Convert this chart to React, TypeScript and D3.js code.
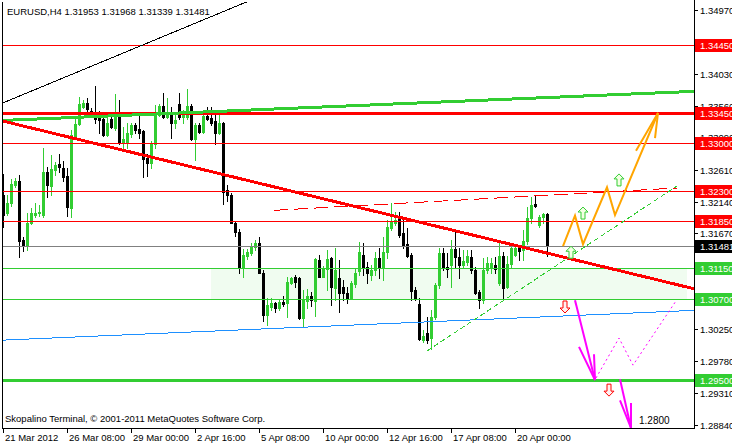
import React from "react";
import * as d3 from "d3";

// EURUSD H4 chart, MetaTrader style, with analyst drawings on top

const symbol = "EURUSD,H4";
const lastQuote = [1.31953, 1.31968, 1.31339, 1.31481];

// open, high, low, close
const bars: [number, number, number, number][] = [
  [1.3224, 1.3255, 1.3176, 1.3194], [1.3197, 1.3224, 1.3194, 1.3212], [1.3212, 1.3247, 1.3207, 1.324],
  [1.3238, 1.3249, 1.3235, 1.3244], [1.3244, 1.3253, 1.3132, 1.3156], [1.3157, 1.3161, 1.3141, 1.3148],
  [1.3148, 1.3197, 1.3142, 1.3182], [1.3182, 1.3204, 1.3181, 1.3197], [1.3194, 1.3212, 1.3191, 1.3197],
  [1.3197, 1.3209, 1.3192, 1.3198], [1.3194, 1.3293, 1.3191, 1.3258], [1.3258, 1.3265, 1.3221, 1.3238],
  [1.3237, 1.3283, 1.3224, 1.3262], [1.3261, 1.3272, 1.3253, 1.3268], [1.327, 1.3284, 1.3258, 1.3265],
  [1.3264, 1.3274, 1.3244, 1.325], [1.3252, 1.3264, 1.3192, 1.3206], [1.3204, 1.332, 1.3191, 1.3312],
  [1.3311, 1.3339, 1.3309, 1.3329], [1.3329, 1.3369, 1.3327, 1.3358], [1.3354, 1.3364, 1.3352, 1.336],
  [1.336, 1.3367, 1.3345, 1.3351], [1.3348, 1.3352, 1.3339, 1.3344], [1.3346, 1.3385, 1.333, 1.3336],
  [1.3345, 1.3348, 1.3315, 1.3335], [1.3336, 1.3339, 1.3311, 1.3312], [1.3312, 1.3338, 1.3311, 1.333],
  [1.3336, 1.3339, 1.3323, 1.3324], [1.3323, 1.3373, 1.332, 1.3345], [1.3342, 1.3364, 1.3299, 1.3301],
  [1.3301, 1.3324, 1.329, 1.3306], [1.3302, 1.333, 1.3293, 1.3315], [1.3314, 1.333, 1.3309, 1.3327],
  [1.3327, 1.333, 1.3315, 1.332], [1.3321, 1.3341, 1.3308, 1.3315], [1.3318, 1.332, 1.325, 1.3277],
  [1.3278, 1.3284, 1.3252, 1.3271], [1.3271, 1.3304, 1.3264, 1.3301], [1.3299, 1.3357, 1.3293, 1.3344],
  [1.3342, 1.3358, 1.3341, 1.3355], [1.3355, 1.3375, 1.3338, 1.3339], [1.3339, 1.3367, 1.3338, 1.3345],
  [1.3344, 1.3354, 1.3308, 1.333], [1.333, 1.3344, 1.3323, 1.3335], [1.3358, 1.3375, 1.3336, 1.3339],
  [1.3339, 1.3349, 1.333, 1.3342], [1.3339, 1.3381, 1.3336, 1.3355], [1.3355, 1.3358, 1.3305, 1.3306],
  [1.3306, 1.333, 1.3275, 1.3327], [1.3327, 1.333, 1.3315, 1.3317], [1.3317, 1.3342, 1.3315, 1.3341],
  [1.3341, 1.3354, 1.3335, 1.3336], [1.3338, 1.3354, 1.3327, 1.333], [1.3333, 1.3345, 1.3299, 1.3315],
  [1.3315, 1.3345, 1.3314, 1.333], [1.333, 1.3332, 1.321, 1.3228], [1.3231, 1.3238, 1.3215, 1.3224],
  [1.3224, 1.3227, 1.3182, 1.3182], [1.3182, 1.3184, 1.3163, 1.3169], [1.3169, 1.3173, 1.3108, 1.3115],
  [1.3117, 1.3144, 1.3103, 1.3135], [1.3133, 1.3144, 1.3129, 1.3139], [1.3138, 1.3153, 1.3135, 1.3148],
  [1.3147, 1.3157, 1.3142, 1.3153], [1.3153, 1.3161, 1.3108, 1.3109], [1.3109, 1.3112, 1.3037, 1.3046],
  [1.3046, 1.3072, 1.3032, 1.3061], [1.3058, 1.3071, 1.3053, 1.3064], [1.3064, 1.3065, 1.305, 1.3056],
  [1.3056, 1.3069, 1.3053, 1.3065], [1.3065, 1.3075, 1.3059, 1.3062], [1.3064, 1.3102, 1.3043, 1.3095],
  [1.3093, 1.3103, 1.3092, 1.3101], [1.3102, 1.3105, 1.3087, 1.3095], [1.3101, 1.3103, 1.304, 1.3042],
  [1.3042, 1.3083, 1.303, 1.3068], [1.3067, 1.3084, 1.3056, 1.3074], [1.3074, 1.308, 1.3059, 1.3068],
  [1.3067, 1.313, 1.3045, 1.3129], [1.3127, 1.3135, 1.3102, 1.3102], [1.3102, 1.3118, 1.3102, 1.3115],
  [1.3114, 1.3142, 1.3083, 1.3129], [1.313, 1.3132, 1.3061, 1.3087], [1.3086, 1.3145, 1.3068, 1.3112],
  [1.3101, 1.3127, 1.305, 1.3078], [1.3087, 1.3098, 1.3068, 1.3078], [1.3078, 1.3087, 1.3064, 1.3072],
  [1.3072, 1.3096, 1.3071, 1.3093], [1.3092, 1.3114, 1.3087, 1.3108], [1.3111, 1.3154, 1.3106, 1.3139],
  [1.3135, 1.3153, 1.3105, 1.3115], [1.3117, 1.3124, 1.3093, 1.3108], [1.3105, 1.312, 1.3098, 1.3112],
  [1.3112, 1.3139, 1.3106, 1.313], [1.313, 1.3145, 1.3101, 1.3115], [1.3115, 1.3161, 1.3098, 1.3139],
  [1.3139, 1.3186, 1.313, 1.3176], [1.3175, 1.3212, 1.3172, 1.3184], [1.3182, 1.3198, 1.3179, 1.3186],
  [1.3191, 1.3198, 1.3161, 1.3164], [1.3167, 1.3186, 1.3145, 1.315], [1.3151, 1.3175, 1.3132, 1.3133],
  [1.3135, 1.3138, 1.3069, 1.3081], [1.3083, 1.3087, 1.3068, 1.3071], [1.3062, 1.3071, 1.3009, 1.3011],
  [1.3009, 1.3024, 1.3006, 1.3015], [1.302, 1.3043, 1.3005, 1.3009], [1.3012, 1.3053, 1.2996, 1.3043],
  [1.3043, 1.3093, 1.304, 1.309], [1.309, 1.3145, 1.3086, 1.3138], [1.3138, 1.3145, 1.3112, 1.3117],
  [1.3117, 1.3138, 1.3102, 1.3114], [1.312, 1.3157, 1.3087, 1.3144], [1.3144, 1.3169, 1.3117, 1.3132],
  [1.3132, 1.3145, 1.3101, 1.312], [1.312, 1.3142, 1.3117, 1.3126], [1.3124, 1.3142, 1.312, 1.3133],
  [1.3132, 1.3142, 1.3108, 1.3112], [1.3112, 1.3117, 1.3077, 1.3078], [1.308, 1.3083, 1.3056, 1.3068],
  [1.3068, 1.313, 1.3064, 1.3112], [1.3112, 1.3132, 1.3108, 1.3123], [1.3115, 1.313, 1.3109, 1.3123],
  [1.312, 1.3132, 1.3108, 1.3114], [1.3093, 1.3153, 1.309, 1.3133], [1.3133, 1.3139, 1.3069, 1.3086],
  [1.3087, 1.3133, 1.3086, 1.3121], [1.3121, 1.315, 1.3117, 1.3145], [1.3135, 1.3148, 1.3133, 1.3145],
  [1.3147, 1.315, 1.3127, 1.3141], [1.3142, 1.3172, 1.3127, 1.3156], [1.3156, 1.3206, 1.3151, 1.3189],
  [1.3189, 1.3221, 1.3182, 1.3209], [1.321, 1.3224, 1.3206, 1.3207], [1.3179, 1.3194, 1.3176, 1.3191],
  [1.3191, 1.3197, 1.3182, 1.3195], [1.31953, 1.31968, 1.31339, 1.31481],
];

const timeLabels = ["21 Mar 2012", "26 Mar 08:00", "29 Mar 00:00", "2 Apr 16:00", "5 Apr 08:00",
  "10 Apr 00:00", "12 Apr 16:00", "17 Apr 08:00", "20 Apr 00:00"];
const barsPerLabel = 16;

const priceTicks = [1.3497, 1.345, 1.3403, 1.3356, 1.3309, 1.3261, 1.3214, 1.3167, 1.312,
  1.3073, 1.3025, 1.2978, 1.2931, 1.2884];

const redLevels = [1.3445, 1.33, 1.323, 1.3185];
const redMainLevel = 1.3345;
const greenLevels = [1.3115, 1.307];
const greenMainLevel = 1.295;
const bidPrice = 1.31481;

// shaded zone: bar range and prices
const zoneBars = [52, 171];
const zonePrices = [1.3115, 1.307];

// drawings, as [bar, price]
const blackTrend: [number, number][] = [[0, 1.336], [62, 1.3512]];
const greenChannel: [number, number][] = [[0, 1.3334], [172.75, 1.3377]];
const redTrend: [number, number][] = [[0, 1.3333], [172.75, 1.3085]];
const blueTrend: [number, number][] = [[0, 1.3009], [172.75, 1.3053]];
const redDashed: [number, number][] = [[67.75, 1.3201], [168.5, 1.3234]];
const greenDashed: [number, number][] = [[106, 1.2993], [168.5, 1.3237]];

const orangePath: [number, number][] = [[140, 1.3148], [143, 1.3193], [145, 1.3151], [151, 1.3235], [153, 1.3194], [163.75, 1.3345]];
const orangeBarbs: [number, number][][] = [[[158.25, 1.3289], [163.75, 1.3345], [163, 1.3308]]];

const magentaArrows: [number, number][][] = [
  [[143, 1.3068], [148, 1.295]],
  [[154.25, 1.2951], [157, 1.2879]],
];
const magentaBarbs: [number, number][][] = [
  [[144, 1.2999], [148, 1.295], [147.75, 1.2988]],
  [[154.25, 1.292], [157, 1.2879], [157, 1.2916]],
];
const magentaDotted: [number, number][] = [[148.25, 1.2953], [154, 1.3012], [157.5, 1.2972], [168.25, 1.3067]];

const upArrows: [number, number][] = [[142, 1.3139], [145, 1.3197], [154, 1.3246]];
const downArrows: [number, number][] = [[140.5, 1.3058], [151.5, 1.2935]];

const targetLabel = { bar: 159, price: 1.2885, text: "1.2800" };
const footer = "Skopalino Terminal, \u00a9 2001-2011 MetaQuotes Software Corp.";

const W = 732;
const H = 445;
const plot = { left: 3, right: 694, top: 2, bottom: 428 };

const GREEN = "#32cd32";
const RED = "#ff0000";
const FONT = "'Liberation Sans', Arial, sans-serif";

export default function App() {
  const x = d3.scaleLinear().domain([0, (plot.right - plot.left) / 4]).range([plot.left, plot.right]);
  const y = d3.scaleLinear().domain([1.2879, 1.35092]).range([plot.bottom, plot.top]);
  const line = d3.line<[number, number]>().x(d => x(d[0])).y(d => y(d[1]));
  const crisp = (v: number) => Math.round(v) + 0.5;

  const arrowUp = "M0,-6 L5,-1 L2,-1 L2,6 L-2,6 L-2,-1 L-5,-1 Z";
  const arrowDown = "M0,6 L5,1 L2,1 L2,-6 L-2,-6 L-2,1 L-5,1 Z";

  // horizontal level drawn as a filled band so thin lines keep their colour
  const level = (p: number, color: string, thick: number, key: string | number) => (
    <rect key={key} x={plot.left} width={plot.right - plot.left}
      y={Math.round(y(p)) - Math.floor(thick / 2)} height={thick} fill={color} />
  );

  const levelTag = (p: number, color: string, key: string) => (
    <g key={key}>
      <rect x={plot.right + 1} y={Math.round(y(p)) - 6} width={40} height={13} fill={color} />
      <text x={plot.right + 6} y={Math.round(y(p)) + 4} fill="#fff" fontSize={9.5}>{p.toFixed(5)}</text>
    </g>
  );

  return (
    <svg width={W} height={H} style={{ position: "absolute", left: 0, top: 0, background: "#fff" }}
      fontFamily={FONT}>
      <defs>
        <clipPath id="plot">
          <rect x={plot.left} y={plot.top} width={plot.right - plot.left} height={plot.bottom - plot.top} />
        </clipPath>
      </defs>
      <rect width={W} height={H} fill="#fff" />

      <g clipPath="url(#plot)" shapeRendering="crispEdges">
        {/* support zone */}
        <rect x={x(zoneBars[0])} y={y(zonePrices[0])} width={x(zoneBars[1]) - x(zoneBars[0])}
          height={y(zonePrices[1]) - y(zonePrices[0])} fill="#f0fcf0" />

        {/* candles */}
        {bars.map(([o, h, l, c], i) => {
          const cx = Math.round(x(i));
          const up = c >= o;
          const col = up ? GREEN : "#000";
          const top = Math.round(y(Math.max(o, c)));
          const bot = Math.round(y(Math.min(o, c)));
          return (
            <g key={i}>
              <rect x={cx} y={Math.round(y(h))} width={1} height={Math.round(y(l)) - Math.round(y(h)) + 1} fill={col} />
              <rect x={cx - 1} y={top} width={3} height={Math.max(1, bot - top + 1)} fill={col} />
            </g>
          );
        })}

        {/* horizontal levels */}
        {redLevels.map(p => level(p, RED, 1, "r" + p))}
        {level(redMainLevel, RED, 3, "rm")}
        {greenLevels.map(p => level(p, GREEN, 1, "g" + p))}
        {level(greenMainLevel, GREEN, 3, "gm")}
        {level(bidPrice, "#808080", 1, "bid")}

        {/* trend lines */}
        <path d={line(blackTrend) || ""} stroke="#000" fill="none" />
        <path d={line(greenChannel) || ""} stroke={GREEN} strokeWidth={3} fill="none" />
        <path d={line(redTrend) || ""} stroke={RED} strokeWidth={3} fill="none" />
        <path d={line(blueTrend) || ""} stroke="#1e90ff" strokeWidth={1} fill="none" />
        <path d={line(redDashed) || ""} stroke={RED} strokeDasharray="14,6" fill="none" />
        <path d={line(greenDashed) || ""} stroke={GREEN} strokeDasharray="5,3" fill="none" />
      </g>

      {/* forecast drawings */}
      <g clipPath="url(#plot)" fill="none" strokeLinejoin="miter">
        <path d={line(orangePath) || ""} stroke="#ffa500" strokeWidth={2} />
        {orangeBarbs.map((b, i) => <path key={i} d={line(b) || ""} stroke="#ffa500" strokeWidth={2} />)}
        {magentaArrows.map((a, i) => <path key={i} d={line(a) || ""} stroke="#ff00ff" strokeWidth={2} />)}
        {magentaBarbs.map((b, i) => <path key={i} d={line(b) || ""} stroke="#ff00ff" strokeWidth={2} />)}
        <path d={line(magentaDotted) || ""} stroke="#ff00ff" strokeDasharray="2,3" />
        {upArrows.map(([b, p], i) => (
          <path key={i} d={arrowUp} transform={`translate(${x(b)},${y(p)})`} fill="#f4ffe4" stroke={GREEN} />
        ))}
        {downArrows.map(([b, p], i) => (
          <path key={i} d={arrowDown} transform={`translate(${x(b)},${y(p)})`} fill="#fff0f0" stroke={RED} />
        ))}
      </g>

      <text x={x(targetLabel.bar)} y={y(targetLabel.price)} fontSize={10} fill="#000">{targetLabel.text}</text>

      {/* frame */}
      <g shapeRendering="crispEdges" stroke="#000">
        <line x1={plot.left - 0.5} x2={plot.left - 0.5} y1={plot.top} y2={plot.bottom} />
        <line x1={plot.right + 0.5} x2={plot.right + 0.5} y1={0} y2={plot.bottom + 1} />
        <line x1={plot.left - 1} x2={plot.right + 1} y1={plot.bottom + 0.5} y2={plot.bottom + 0.5} />
      </g>

      {/* price axis */}
      <g fontSize={9.5} fill="#000">
        {priceTicks.map(p => (
          <g key={p}>
            <line x1={plot.right} x2={plot.right + 4} y1={crisp(y(p))} y2={crisp(y(p))} stroke="#000" />
            <text x={plot.right + 6} y={Math.round(y(p)) + 4}>{p.toFixed(5)}</text>
          </g>
        ))}
      </g>
      {levelTag(redLevels[0], RED, "r0")}
      {levelTag(redMainLevel, RED, "rm")}
      {redLevels.slice(1).map((p, i) => levelTag(p, RED, "r" + (i + 1)))}
      {levelTag(bidPrice, "#000", "bid")}
      {greenLevels.map((p, i) => levelTag(p, GREEN, "g" + i))}
      {levelTag(greenMainLevel, GREEN, "gm")}

      {/* time axis */}
      <g fontSize={9.5} fill="#000">
        {timeLabels.map((t, k) => {
          const tx = Math.round(x(k * barsPerLabel));
          return (
            <g key={t}>
              <line x1={tx + 0.5} x2={tx + 0.5} y1={plot.bottom} y2={plot.bottom + 5} stroke="#000" />
              <text x={tx + 2} y={plot.bottom + 13}>{t}</text>
            </g>
          );
        })}
      </g>

      <text x={7} y={15} fontSize={9.5}>{symbol + "  " + lastQuote.map(v => v.toFixed(5)).join(" ")}</text>
      <text x={5} y={422} fontSize={9.5}>{footer}</text>
    </svg>
  );
}
